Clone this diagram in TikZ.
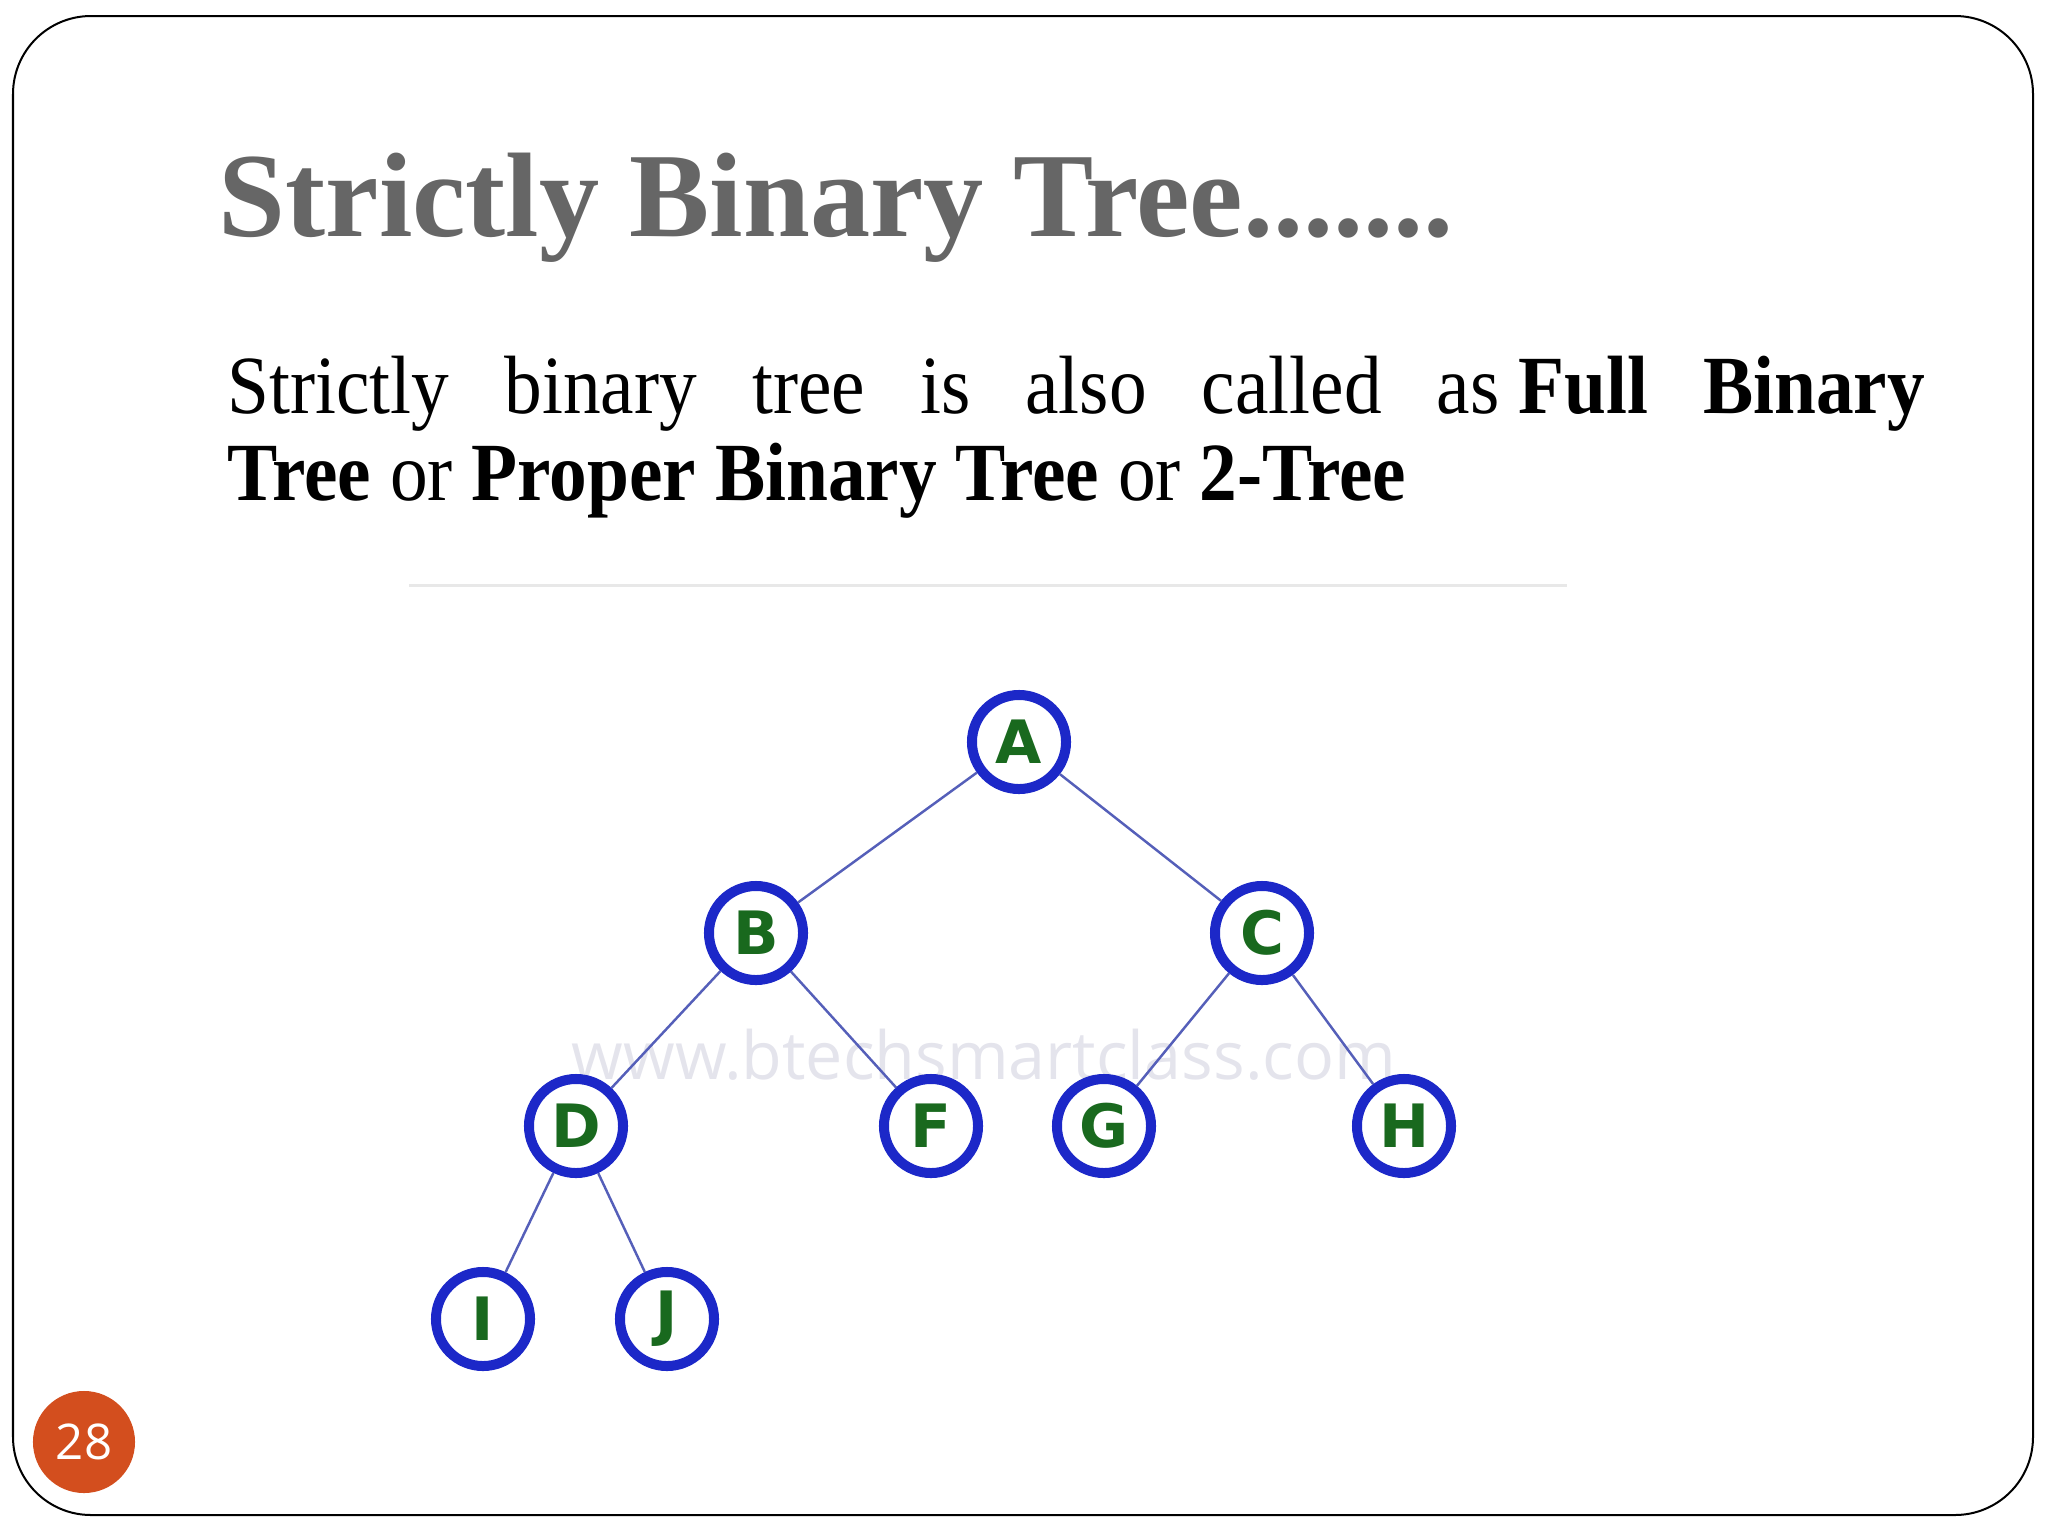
\documentclass[tikz,border=0pt]{standalone}
\usepackage{fontspec}
\setmainfont{Liberation Serif}
\newfontfamily\labelfont{DejaVu Sans}
\newfontfamily\markfont{Open Sans}
\usepackage{graphicx}

\definecolor{ringblue}{RGB}{28,40,200}
\definecolor{lettergreen}{RGB}{25,105,30}
\definecolor{edgeblue}{RGB}{85,95,185}
\definecolor{titlegray}{RGB}{102,102,102}
\definecolor{markgray}{RGB}{228,228,236}
\definecolor{rulegray}{RGB}{232,232,232}
\definecolor{pagered}{RGB}{211,78,30}

\tikzset{
  vertex/.style={circle, draw=ringblue, line width=0.1cm, fill=white,
    minimum size=0.94cm, inner sep=0pt, text=lettergreen,
    font=\labelfont\bfseries\fontsize{17}{17}\selectfont},
  link/.style={draw=edgeblue, line width=0.7pt},
  textline/.style={anchor=base west, inner sep=0pt}
}

\begin{document}
\begin{tikzpicture}[x=0.01cm, y=-0.01cm]
\useasboundingbox (0,0) rectangle (2048,1536);
\draw[line width=0.02cm, rounded corners=0.78cm] (13,16) rectangle (2033,1515);

\node[textline, text=titlegray, font=\fontsize{34.2}{40}\selectfont\bfseries] (title) at (218,236) {Strictly Binary Tree.......};
\node[textline, font=\fontsize{21}{25}\selectfont] (lineone) at (227,413)
  {\scalebox{1.02}[1.12]{\makebox[16.63cm][l]{Strictly\hfill binary\hfill tree\hfill is\hfill also\hfill called\hfill as \textbf{Full}\hfill\textbf{Binary}}}};
\node[textline, font=\fontsize{21}{25}\selectfont] (linetwo) at (227,500)
  {\scalebox{1.02}[1.12]{\textbf{Tree} or \textbf{Proper Binary Tree} or \textbf{2-Tree}}};

\draw[rulegray, line width=0.03cm] (409,585) -- (1567,585);

\node[textline, text=markgray, font=\markfont] (mark) at (571,1079) {\resizebox{8.24cm}{!}{www.btechsmartclass.com}};

\node[vertex] (A) at (1019,742) {A};
\node[vertex] (B) at (756,933) {B};
\node[vertex] (C) at (1262,933) {C};
\node[vertex] (D) at (576,1126) {D};
\node[vertex] (F) at (931,1126) {F};
\node[vertex] (G) at (1104,1126) {G};
\node[vertex] (H) at (1404,1126) {H};
\node[vertex] (I) at (483,1319) {I};
\node[vertex] (J) at (667,1319) {J};

\foreach \a/\b in {A/B, A/C, B/D, B/F, C/G, C/H, D/I, D/J}
  \draw[link] (\a) -- (\b);

\node[circle, fill=pagered, minimum size=1.02cm, inner sep=0pt, text=white, font=\markfont\fontsize{14}{14}\selectfont] (pagenum) at (84,1442) {28};
\end{tikzpicture}
\end{document}
